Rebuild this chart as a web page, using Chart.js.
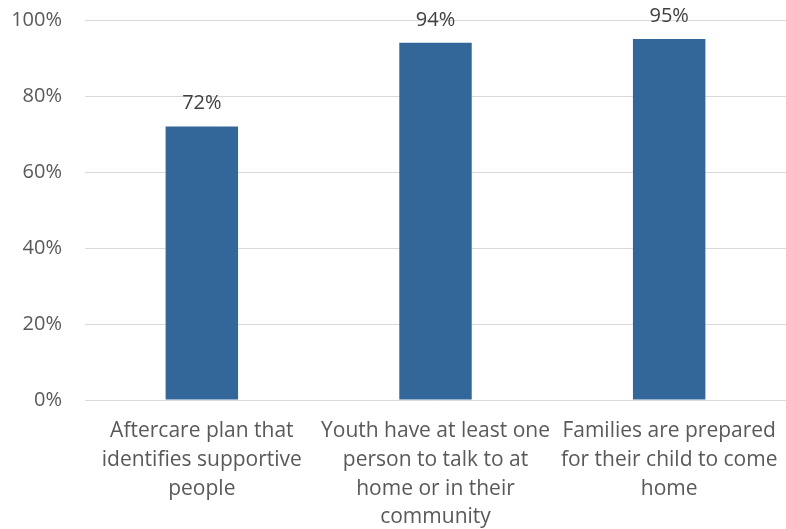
<!DOCTYPE html>
<html>
<head>
<meta charset="utf-8">
<script src="https://cdn.jsdelivr.net/npm/chart.js@4"></script>
<style>
	html, body { margin:0; padding:0; background:#fff; }
	#wrap { width:786px; height:529px; position:relative; }
</style>
</head>
<body>
<div id="wrap"><canvas id="chart"></canvas></div>
<script>
const categories = [
	['Aftercare plan that', 'identifies supportive', 'people'],
	['Youth have at least one', 'person to talk to at', 'home or in their', 'community'],
	['Families are prepared', 'for their child to come', 'home']
]
const values = [72, 94, 95]
const yTicks = [0, 20, 40, 60, 80, 100]

const FONT = "'Open Sans', sans-serif"

// labels above each bar, placed via the chart's own element positions
const valueLabels = {
	id:'valueLabels',
	afterDatasetsDraw(chart){
		const ctx = chart.ctx
		const meta = chart.getDatasetMeta(0)
		ctx.save()
		ctx.font = `20px ${FONT}`
		ctx.fillStyle = '#404040'
		ctx.textAlign = 'center'
		ctx.textBaseline = 'middle'
		meta.data.forEach((bar, i) => {
			ctx.fillText(`${values[i]}%`, bar.x, bar.y - 23)
		})
		ctx.restore()
	}
}

new Chart(document.getElementById('chart'), {
	type:'bar',
	data:{
		labels:categories,
		datasets:[
			{
				data:values,
				backgroundColor:'#336699',
				barPercentage:1,
				categoryPercentage:0.31
			}
		]
	},
	options:{
		responsive:true,
		maintainAspectRatio:false,
		animation:false,
		layout:{ padding:{ left:10, right:0, top:0, bottom:-11 } },
		plugins:{
			legend:{ display:false },
			tooltip:{ enabled:false }
		},
		scales:{
			x:{
				grid:{ display:false },
				border:{ display:false },
				ticks:{
					color:'#595959',
					font:{ family:FONT, size:21, lineHeight:1.38 },
					maxRotation:0,
					autoSkip:false,
					padding:8
				}
			},
			y:{
				min:0,
				max:100,
				afterBuildTicks: axis => { axis.ticks = yTicks.map(v => ({ value:v })) },
				afterFit: axis => {
					axis.width = 75
					axis.paddingTop = 20
					axis.paddingBottom = 0
				},
				grid:{ color:'#d9d9d9', lineWidth:1, drawTicks:false },
				border:{ display:false },
				ticks:{
					color:'#595959',
					font:{ family:FONT, size:20 },
					padding:23,
					callback: v => `${v}%`
				}
			}
		}
	},
	plugins:[valueLabels]
})
</script>
</body>
</html>
